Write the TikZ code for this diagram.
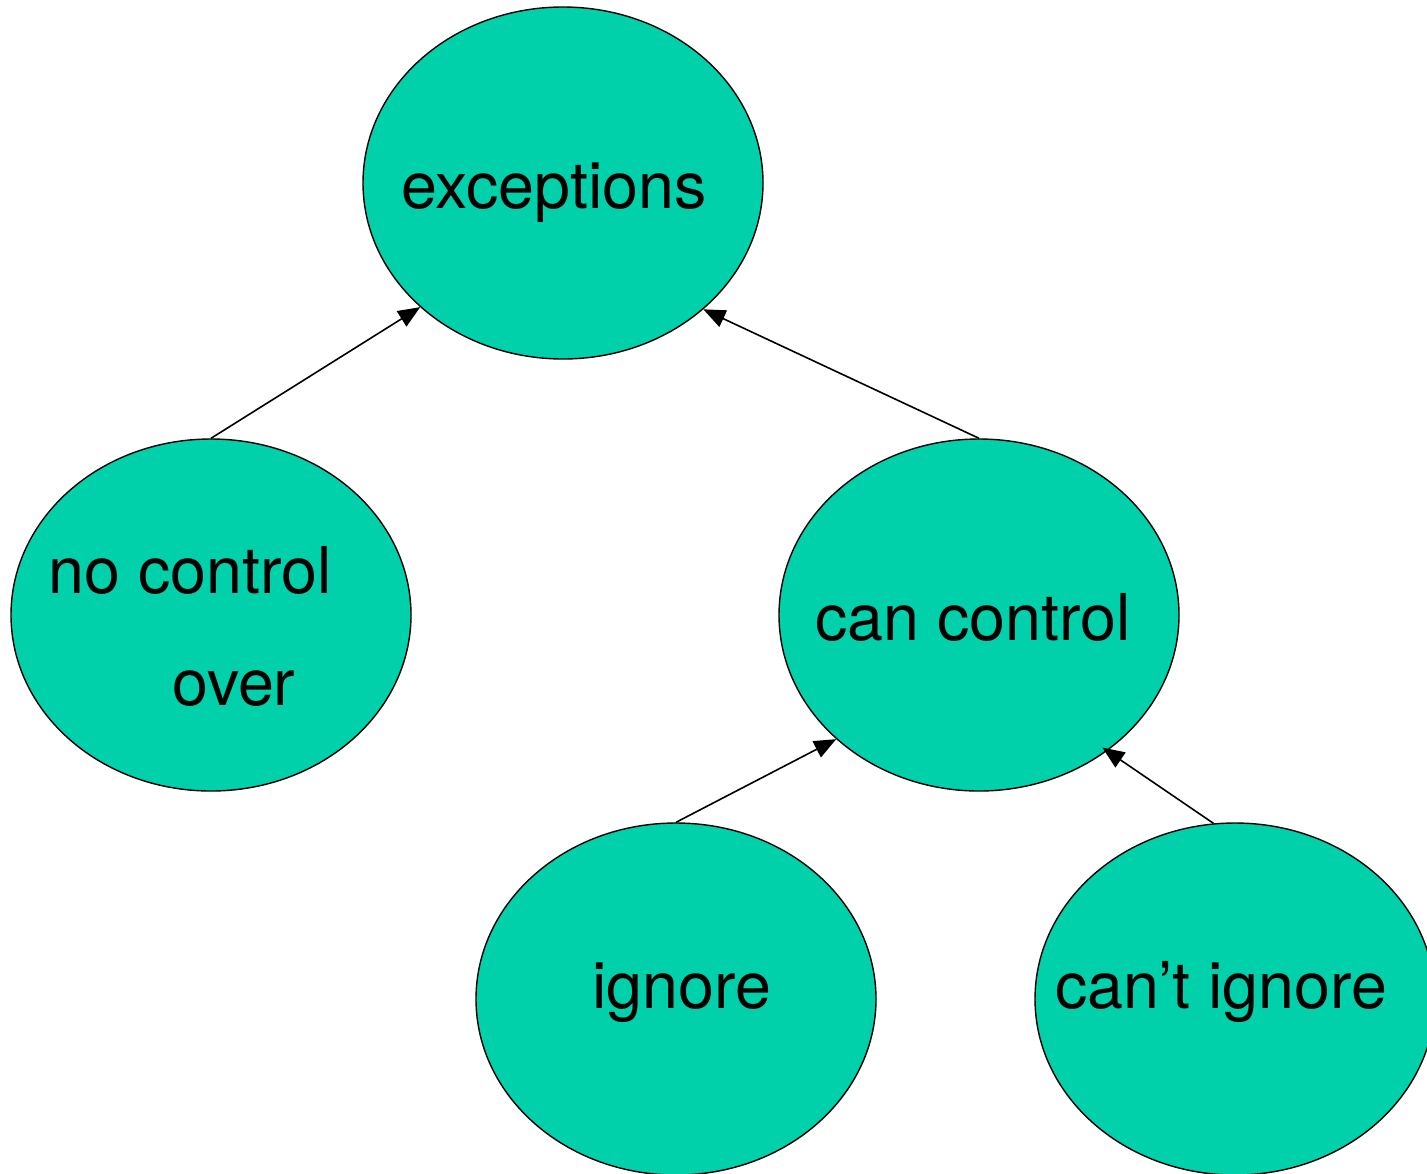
\documentclass[tikz,border=0pt]{standalone}
\usepackage{fontspec}
\setmainfont{TeX Gyre Heros}
\usetikzlibrary{positioning,arrows.meta,shapes.geometric}
\definecolor{cteal}{RGB}{0,209,170}

\begin{document}
\begin{tikzpicture}[x=0.5pt, y=-0.5pt,
  blob/.style={ellipse, draw=black, fill=cteal, line width=0.7pt,
               minimum width=200pt, minimum height=176pt, inner sep=0pt},
  txt/.style={anchor=base west, inner sep=0pt, font=\fontsize{32.3}{38}\selectfont},
  ar/.style={-{Triangle[length=11pt, width=9pt]}, draw=black, line width=0.8pt}]
\clip (0,0) rectangle (1427,1173);
% the ellipses
\node[blob] (exc)    at (563,183)  {};
\node[blob] (noctl)  at (211,615)  {};
\node[blob] (canctl) at (979,615)  {};
\node[blob] (ign)    at (676,999)  {};
\node[blob] (cant)   at (1235,999) {};
% their texts
\node[txt] (exct)    at (401,208)  {exceptions};
\node[txt] (noctla)  at (48,593)   {no control};
\node[txt] (noctlb)  at (172,705)  {over};
\node[txt] (canctlt) at (815,640)  {can control};
\node[txt] (ignt)    at (592,1008) {ignore};
\node[txt] (cantt)   at (1055,1008) {can’t ignore};
% arrows
\draw[ar] (noctl.north)  -- (exc.221.6);
\draw[ar] (canctl.north) -- (exc.318.6);
\draw[ar] (ign.north)    -- (canctl.221.6);
\draw[ar] (cant.97)      -- ([shift={(-4,-4)}]canctl.313.4);
\end{tikzpicture}
\end{document}
